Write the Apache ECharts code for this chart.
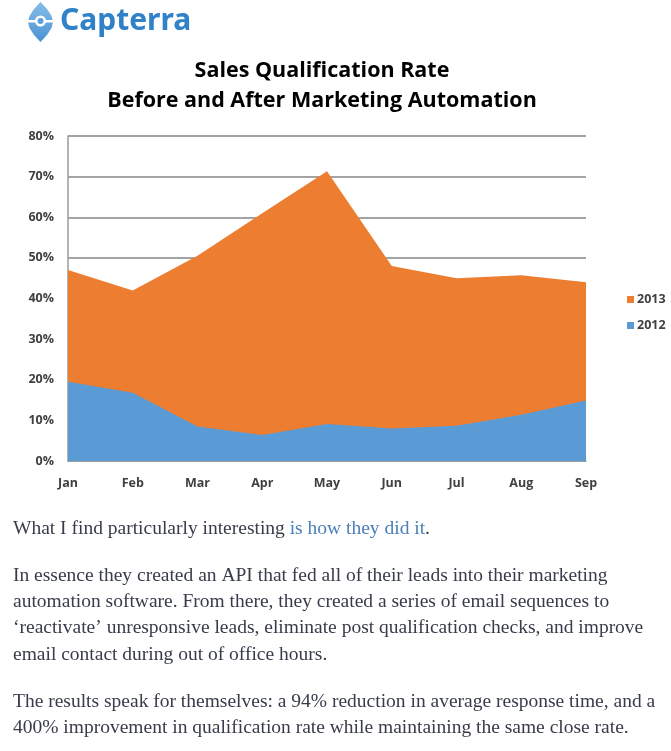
<!DOCTYPE html>
<html>
<head>
<meta charset="utf-8">
<script src="https://cdn.jsdelivr.net/npm/echarts@6/dist/echarts.min.js"></script>
<style>
html,body{margin:0;padding:0;background:#fff;}
#chart{width:671px;height:751px;}
</style>
</head>
<body>
<div id="chart"></div>
<script>
var months = ['Jan','Feb','Mar','Apr','May','Jun','Jul','Aug','Sep'];
var rate2013 = [47, 42, 50.5, 61, 71.3, 48, 45, 45.7, 44];
var rate2012 = [19.5, 16.8, 8.5, 6.4, 9.1, 8.0, 8.7, 11.4, 14.9];
var yTicks = [0, 10, 20, 30, 40, 50, 60, 70, 80];
var seriesNames = ['2013', '2012'];
var titleLines = ['Sales Qualification Rate', 'Before and After Marketing Automation'];
var logoText = 'Capterra';
var para1 = ['What I find particularly interesting ', 'is how they did it', '.'];
var para2 = ['In essence they created an API that fed all of their leads into their marketing',
             'automation software. From there, they created a series of email sequences to',
             '\u2018reactivate\u2019 unresponsive leads, eliminate post qualification checks, and improve',
             'email contact during out of office hours.'];
var para3 = ['The results speak for themselves: a 94% reduction in average response time, and a',
             '400% improvement in qualification rate while maintaining the same close rate.'];

var chart = echarts.init(document.getElementById('chart'));
var serif = '"Liberation Serif", serif';
var bodyColor = '#383c4a';
var bodySize = 19.5;

var graphics = [];
// logo icon
graphics.push({
  type: 'polygon', x: 28, y: 2,
  shape: { points: [[12.5,0],[19,7],[23.5,14],[25,20],[23.5,26],[19,33],[12.5,40],[6,33],[1.5,26],[0,20],[1.5,14],[6,7]] },
  style: { fill: { type: 'linear', x: 0, y: 0, x2: 0, y2: 1, colorStops: [{offset:0,color:'#86bde8'},{offset:1,color:'#4a92d2'}] } }
});
graphics.push({ type: 'rect', shape: {x: 27, y: 20, width: 27, height: 2.5}, style: {fill: '#fff'} });
graphics.push({ type: 'circle', shape: {cx: 40.5, cy: 21, r: 5.5}, style: {fill: '#fff'} });
graphics.push({ type: 'circle', shape: {cx: 40.5, cy: 21, r: 3}, style: {fill: '#5aa0dc'} });
graphics.push({
  type: 'text', x: 60, y: 21,
  style: { text: logoText, font: 'bold 30px "Noto Sans", sans-serif', fill: '#2f81c8', textVerticalAlign: 'middle' }
});
// title
graphics.push({
  type: 'text', x: 322, y: 71,
  style: { text: titleLines[0], font: 'bold 21.5px "Open Sans", sans-serif', fill: '#000', textAlign: 'center', textVerticalAlign: 'middle' }
});
graphics.push({
  type: 'text', x: 322, y: 101,
  style: { text: titleLines[1], font: 'bold 21.5px "Open Sans", sans-serif', fill: '#000', textAlign: 'center', textVerticalAlign: 'middle' }
});
// paragraph 1 with link
graphics.push({
  type: 'text', x: 13, y: 529,
  style: {
    text: '{a|' + para1[0] + '}{b|' + para1[1] + '}{a|' + para1[2] + '}',
    textVerticalAlign: 'middle',
    rich: {
      a: { fontFamily: serif, fontSize: bodySize, fill: bodyColor },
      b: { fontFamily: serif, fontSize: bodySize, fill: '#4a7fb8' }
    }
  }
});
var p2y = [576, 602, 628, 655];
para2.forEach(function (t, i) {
  graphics.push({ type: 'text', x: 13, y: p2y[i], style: { text: t, font: bodySize + 'px ' + serif, fill: bodyColor, textVerticalAlign: 'middle' } });
});
var p3y = [702, 728];
para3.forEach(function (t, i) {
  graphics.push({ type: 'text', x: 13, y: p3y[i], style: { text: t, font: bodySize + 'px ' + serif, fill: bodyColor, textVerticalAlign: 'middle' } });
});

var labelFont = { fontFamily: '"Open Sans", sans-serif', fontWeight: 'bold', fontSize: 12.5, color: '#404040' };

chart.setOption({
  animation: false,
  backgroundColor: '#fff',
  grid: { left: 68, right: 85, top: 136, bottom: 290, containLabel: false },
  legend: {
    data: seriesNames,
    orient: 'vertical',
    left: 622, top: 288,
    itemWidth: 7, itemHeight: 7, itemGap: 13,
    icon: 'rect',
    textStyle: { fontFamily: '"Open Sans", sans-serif', fontWeight: 'bold', fontSize: 12.5, color: '#404040', padding: [0,0,0,-2] }
  },
  xAxis: {
    type: 'category', data: months, boundaryGap: false,
    axisLine: { lineStyle: { color: '#9a9a9a', width: 1.5 } },
    axisTick: { show: false },
    axisLabel: Object.assign({ margin: 16 }, labelFont),
    splitLine: { show: false }
  },
  yAxis: {
    type: 'value', min: yTicks[0], max: yTicks[yTicks.length - 1], interval: 10,
    axisLine: { show: true, lineStyle: { color: '#9a9a9a', width: 1.5 } },
    axisTick: { show: false },
    axisLabel: Object.assign({ margin: 14, formatter: '{value}%' }, labelFont),
    splitLine: { show: true, lineStyle: { color: '#a3a3a3', width: 1.8 } }
  },
  series: [
    { name: seriesNames[0], type: 'line', data: rate2013, symbol: 'none', lineStyle: { width: 0 },
      itemStyle: { color: '#ED7D31' }, areaStyle: { color: '#ED7D31', opacity: 1 }, z: 2 },
    { name: seriesNames[1], type: 'line', data: rate2012, symbol: 'none', lineStyle: { width: 0 },
      itemStyle: { color: '#5B9BD5' }, areaStyle: { color: '#5B9BD5', opacity: 1 }, z: 3 }
  ],
  graphic: graphics
});
</script>
</body>
</html>
